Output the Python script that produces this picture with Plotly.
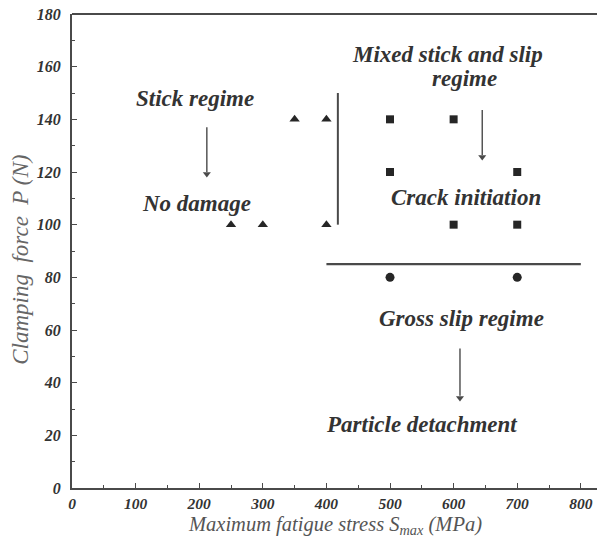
import plotly.graph_objects as go

# Data
stick_x = [250, 300, 350, 400, 400]
stick_y = [100, 100, 140, 140, 100]
mixed_x = [500, 600, 500, 700, 600, 700]
mixed_y = [140, 140, 120, 120, 100, 100]
gross_x = [500, 700]
gross_y = [80, 80]

# boundary lines (data coords)
vline_x = [418, 418]
vline_y = [100, 150]
hline_x = [400, 800]
hline_y = [85, 85]

# labels: (text, x, y)
labels = [
    ("Stick regime", 193, 148),
    ("No damage", 196, 108),
    ("Mixed stick and slip", 590, 164.5),
    ("regime", 617, 155.5),
    ("Crack initiation", 620, 110.5),
    ("Gross slip regime", 613, 64.5),
    ("Particle detachment", 549, 24),
]
# arrows: (x, y_start, y_end)
arrows = [
    (212, 137, 118),
    (645, 143.5, 124.5),
    (610, 53, 33),
]

x_ticks = [0, 100, 200, 300, 400, 500, 600, 700, 800]
y_ticks = [0, 20, 40, 60, 80, 100, 120, 140, 160, 180]

mark_col = "#262626"
line_col = "#4a4a4a"
text_col = "#333333"
serif = "Liberation Serif, DejaVu Serif, serif"

fig = go.Figure()
fig.add_trace(go.Scatter(x=stick_x, y=stick_y, mode="markers",
                         marker=dict(symbol="triangle-up", size=9, color=mark_col)))
fig.add_trace(go.Scatter(x=mixed_x, y=mixed_y, mode="markers",
                         marker=dict(symbol="square", size=8, color=mark_col)))
fig.add_trace(go.Scatter(x=gross_x, y=gross_y, mode="markers",
                         marker=dict(symbol="circle", size=9, color=mark_col)))
fig.add_trace(go.Scatter(x=vline_x, y=vline_y, mode="lines",
                         line=dict(color=line_col, width=2)))
fig.add_trace(go.Scatter(x=hline_x, y=hline_y, mode="lines",
                         line=dict(color=line_col, width=2.2)))

for x, y0, y1 in arrows:
    fig.add_trace(go.Scatter(x=[x, x], y=[y0, y1 + 2], mode="lines",
                             line=dict(color=line_col, width=1.4)))
    fig.add_trace(go.Scatter(x=[x], y=[y1 + 1.2], mode="markers",
                             marker=dict(symbol="triangle-down", size=7, color=line_col)))

for t, x, y in labels:
    fig.add_annotation(x=x, y=y, text="<b><i>%s</i></b>" % t, showarrow=False,
                       font=dict(family=serif, size=23, color=text_col))

# axis titles
fig.add_annotation(xref="paper", yref="paper", x=0.494, y=-0.079,
                   xanchor="center", yanchor="middle",
                   text="<i>Maximum fatigue stress S<sub>max</sub> (MPa)</i>",
                   showarrow=False, font=dict(family=serif, size=20.5, color="#555555"))
fig.add_annotation(xref="paper", yref="paper", x=-0.098, y=0.481, textangle=-90,
                   xanchor="center", yanchor="middle",
                   text="<i>Clamping  force  P (N)</i>",
                   showarrow=False, font=dict(family=serif, size=23, color="#666666"))

# top frame line
fig.add_shape(type="line", xref="paper", yref="paper", x0=0, x1=1, y0=1, y1=1,
              line=dict(color=line_col, width=2))

fig.update_layout(
    width=597, height=539,
    margin=dict(l=64, r=0, t=6, b=59),
    paper_bgcolor="white", plot_bgcolor="white",
    showlegend=False,
    font=dict(family=serif, color=text_col),
)
fig.update_xaxes(
    range=[0, 838], tickvals=x_ticks, automargin=False, ticklabeloverflow="allow",
    ticktext=["<b><i>%d</i></b>" % v for v in x_ticks],
    tickfont=dict(family=serif, size=15.5, color=text_col),
    ticks="inside", ticklen=5, tickcolor=line_col, tickwidth=1.3,
    minor=dict(ticks="inside", dtick=50, ticklen=3, tickcolor=line_col, tickwidth=1.3),
    showline=True, linecolor=line_col, linewidth=2,
    showgrid=False, zeroline=False,
)
fig.update_yaxes(
    range=[0, 180], tickvals=y_ticks, automargin=False, ticklabeloverflow="allow",
    ticktext=["<b><i>%d</i></b>" % v for v in y_ticks],
    tickfont=dict(family=serif, size=16, color=text_col),
    ticks="inside", ticklen=5, tickcolor=line_col, tickwidth=1.3,
    minor=dict(ticks="inside", dtick=10, ticklen=3, tickcolor=line_col, tickwidth=1.3),
    showline=True, linecolor=line_col, linewidth=2, mirror=False,
    showgrid=False, zeroline=False, ticklabelstandoff=6,
)

fig.write_html("out.html")
